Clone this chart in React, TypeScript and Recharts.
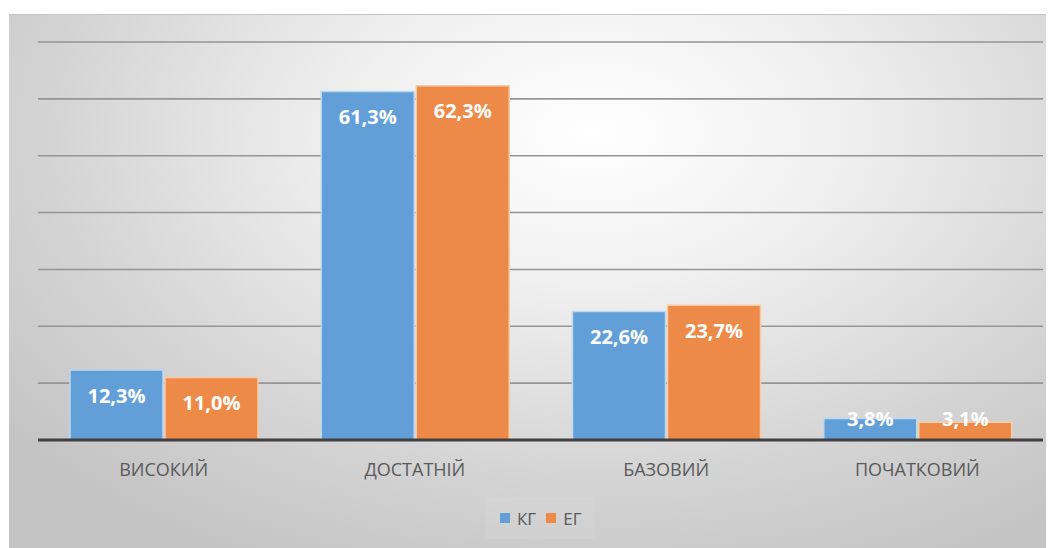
import { BarChart, Bar, XAxis, YAxis, CartesianGrid, Legend, LabelList } from "recharts";

const categories = ["ВИСОКИЙ", "ДОСТАТНІЙ", "БАЗОВИЙ", "ПОЧАТКОВИЙ"];
const kgValues = [12.3, 61.3, 22.6, 3.8];
const egValues = [11.0, 62.3, 23.7, 3.1];
const yTicks = [0, 10, 20, 30, 40, 50, 60, 70];

const seriesMeta = [
  { key: "kg", name: "КГ", fill: "#629fd8", stroke: "#bcd7f0" },
  { key: "eg", name: "ЕГ", fill: "#ee8a47", stroke: "#f8cba9" },
];

const data = categories.map((c, i) => ({ cat: c, kg: kgValues[i], eg: egValues[i] }));

const FONT = "'Open Sans', 'Liberation Sans', sans-serif";

function fmt(v: number) {
  return v.toFixed(1).replace(".", ",") + "%";
}

// Excel-style "inside end" label, pushed up for short bars
function BarLabel(props: any) {
  const { x, y, width, height, value } = props;
  const cy = Math.min(y + 25, y + height - 22);
  return (
    <text
      x={x + width / 2}
      y={cy}
      textAnchor="middle"
      dominantBaseline="central"
      fill="#ffffff"
      fontFamily={FONT}
      fontWeight={700}
      fontSize={20}
    >
      {fmt(value)}
    </text>
  );
}

function CatTick(props: any) {
  const { x, y, payload } = props;
  return (
    <text x={x} y={y + 29} textAnchor="middle" dominantBaseline="central" fill="#595959" fontFamily={FONT} fontSize={18}>
      {payload.value}
    </text>
  );
}

function LegendBox() {
  return (
    <div
      style={{
        width: 110,
        height: 42,
        background: "rgba(255,255,255,0.08)",
        display: "flex",
        alignItems: "center",
        fontFamily: FONT,
        fontSize: 17,
        color: "#595959",
      }}
    >
      {seriesMeta.map((s, i) => (
        <div key={s.key} style={{ display: "flex", alignItems: "center", marginLeft: i === 0 ? 15 : 10 }}>
          <span style={{ width: 10, height: 10, background: s.fill, display: "inline-block", marginRight: 7 }} />
          <span>{s.name}</span>
        </div>
      ))}
    </div>
  );
}

export default function App() {
  return (
    <div
      style={{
        marginTop: 6,
        marginLeft: 1,
        width: 1045,
        height: 534,
        borderTop: "1px solid #c4c4c4",
        boxSizing: "border-box",
        background: "radial-gradient(ellipse 72% 90% at 56% 22%, #ffffff 0%, #f0f0f0 32%, #d4d4d4 72%, #c4c4c4 100%)",
      }}
    >
      <BarChart
        width={1045}
        height={533}
        data={data}
        margin={{ top: 27, right: 11, left: 29, bottom: 78 }}
        barGap={2}
        barSize={93}
      >
        <CartesianGrid vertical={false} stroke="#959595" strokeWidth={1.6} />
        <YAxis hide domain={[0, 70]} ticks={yTicks} />
        <XAxis
          dataKey="cat"
          height={30}
          axisLine={{ stroke: "#404040", strokeWidth: 3 }}
          tickLine={false}
          tickSize={0}
          tickMargin={0}
          tick={<CatTick />}
          interval={0}
        />
        <Legend
          layout="horizontal"
          verticalAlign="middle"
          content={() => <LegendBox />}
          wrapperStyle={{ top: 482, left: 476, width: 110 }}
        />
        {seriesMeta.map((s) => (
          <Bar key={s.key} dataKey={s.key} name={s.name} fill={s.fill} stroke={s.stroke} strokeWidth={1.5} isAnimationActive={false}>
            <LabelList dataKey={s.key} content={<BarLabel />} />
          </Bar>
        ))}
      </BarChart>
    </div>
  );
}
